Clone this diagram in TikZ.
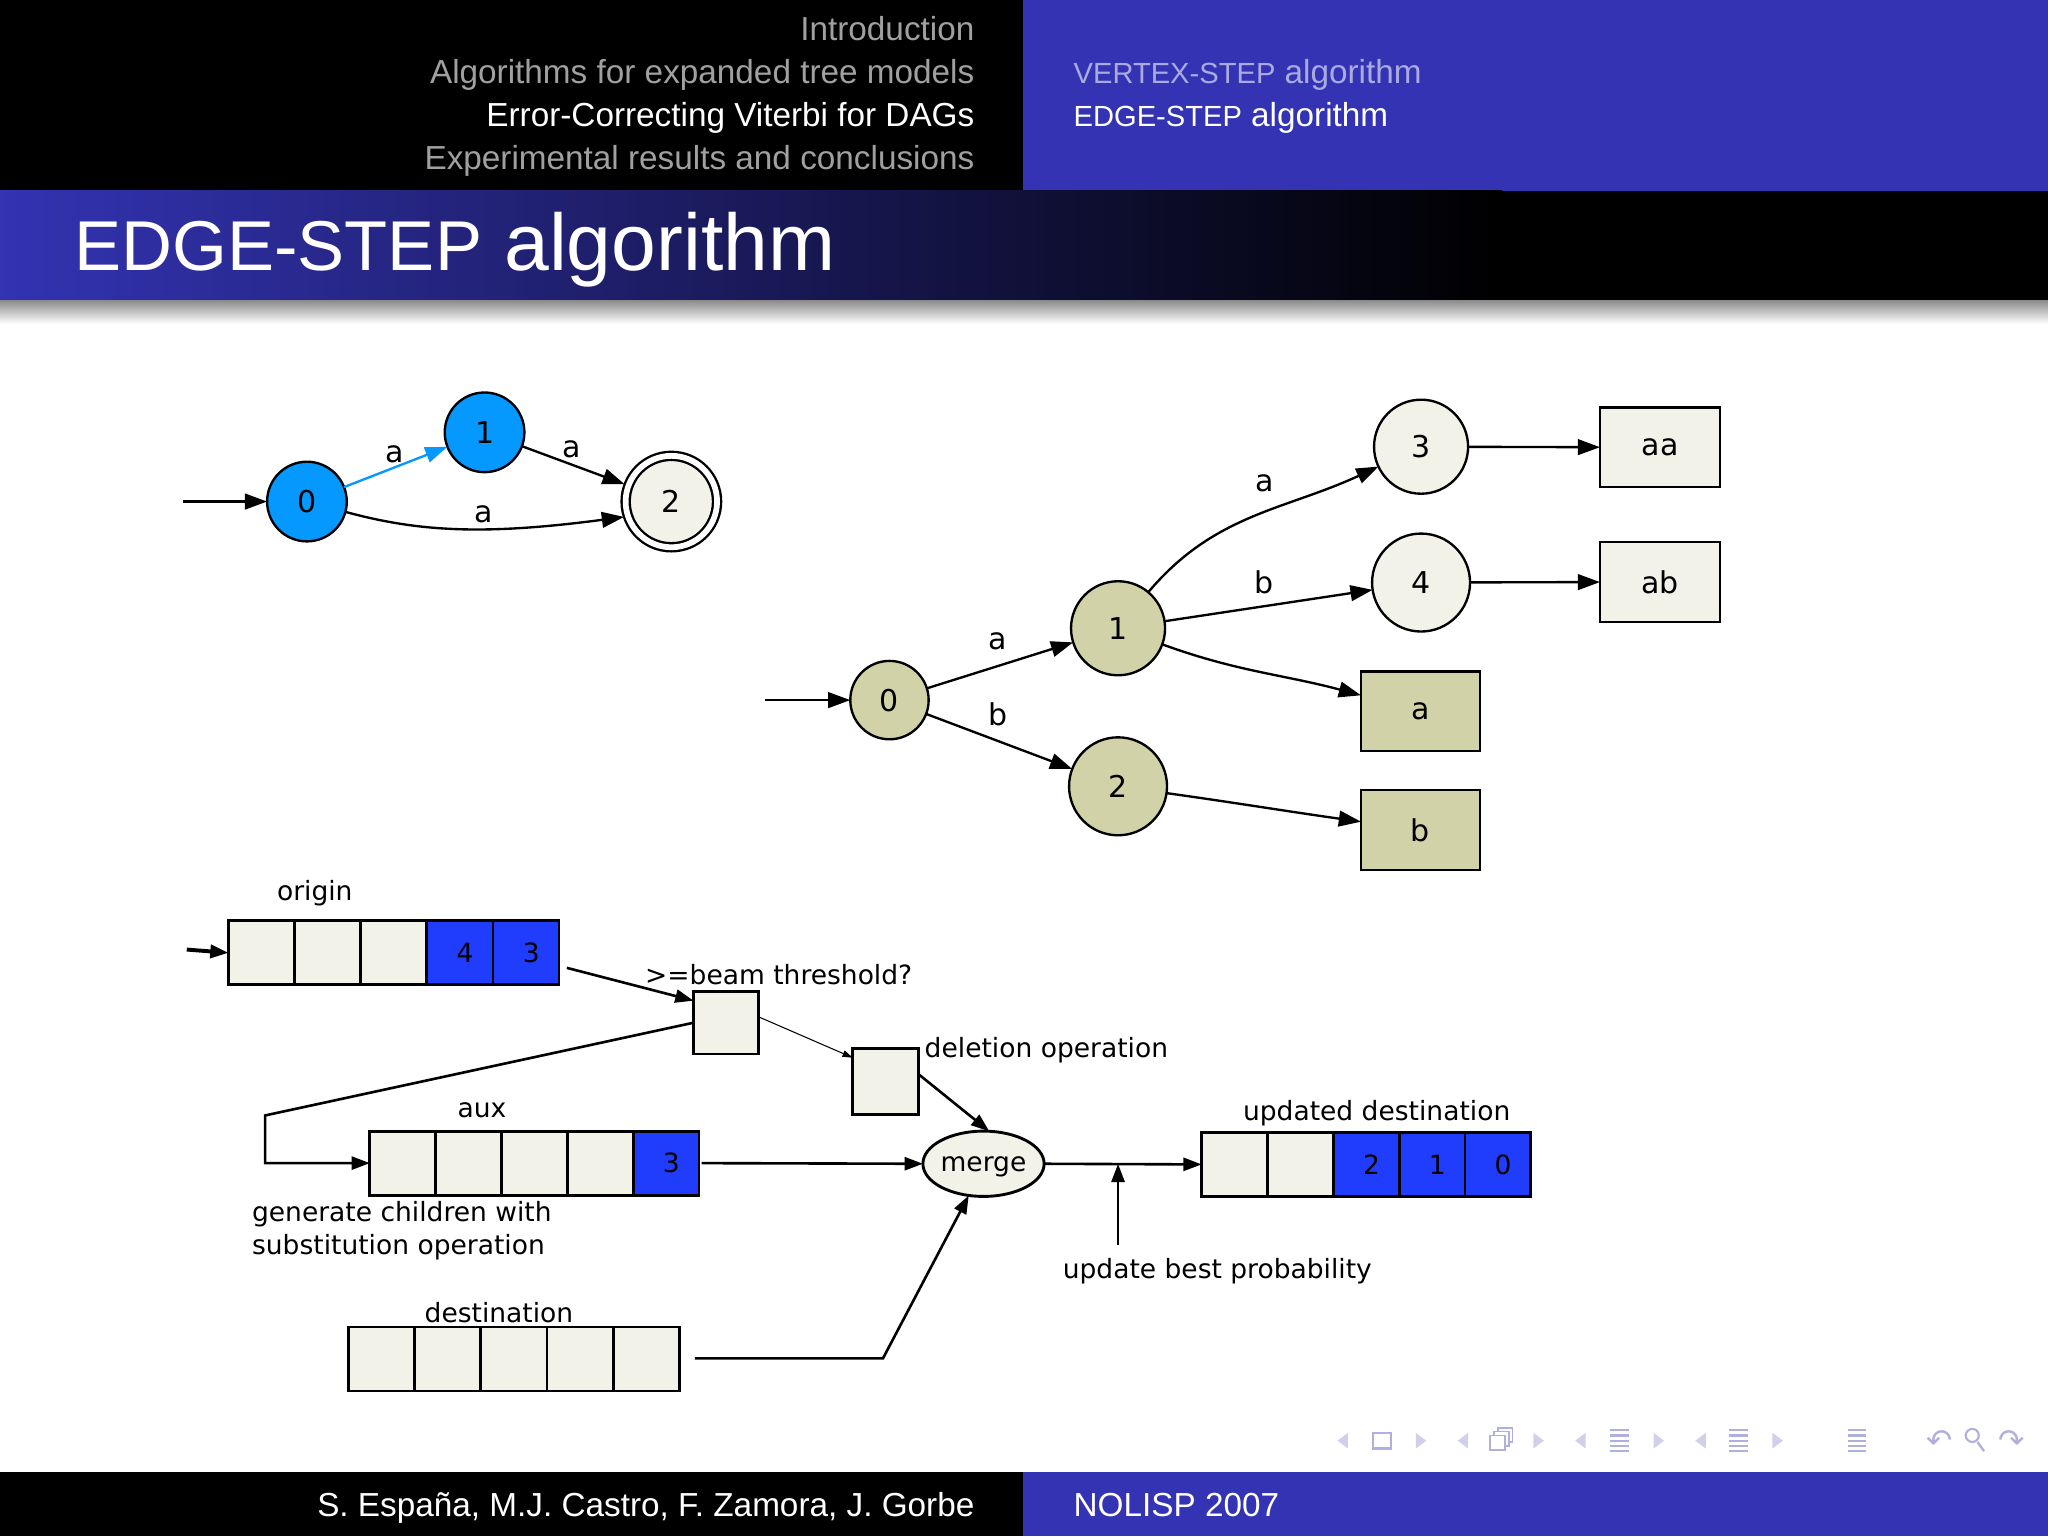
\documentclass[tikz,border=0pt]{standalone}
\usepackage{fontspec}
\setmainfont{Liberation Sans}
\newfontfamily\gvfont{DejaVu Sans}
\usetikzlibrary{arrows.meta,shapes.geometric}

\definecolor{structblue}{RGB}{51,51,179}
\definecolor{stateblue}{RGB}{5,152,255}
\definecolor{gvbeige}{RGB}{242,242,233}
\definecolor{gvkhaki}{RGB}{210,210,168}
\definecolor{cellblue}{RGB}{32,60,252}
\definecolor{navcol}{RGB}{176,176,222}
\definecolor{hdrgray}{RGB}{160,160,160}
\definecolor{subgray}{RGB}{170,170,225}

\begin{document}
\begin{tikzpicture}[x=1pt, y=-1pt,
  every node/.style={inner sep=0pt, outer sep=0pt},
  hdr/.style={font=\fontsize{25.5}{30}\selectfont, anchor=base east},
  hdrr/.style={font=\fontsize{25.5}{30}\selectfont, anchor=base west},
  gv/.style={font=\gvfont\fontsize{23}{27}\selectfont},
  elbl/.style={gv, yshift=-2pt},
  lbl/.style={font=\gvfont\fontsize{20.3}{25}\selectfont, align=left, yshift=-2pt},
  state/.style={gv, circle, draw, line width=1.8pt, minimum size=61pt},
  leaf/.style={gv, rectangle, draw, line width=1.8pt, minimum width=91pt, minimum height=61pt},
  trans/.style={line width=1.8pt, -{Triangle[length=17pt,width=12pt]}},
  cell/.style={draw, line width=2.2pt, fill=gvbeige, minimum width=50.6pt, minimum height=49pt, font=\gvfont\fontsize{20.3}{24}\selectfont},
  bcell/.style={cell, fill=cellblue},
  flow/.style={line width=2pt, -{Triangle[length=14pt,width=10pt]}}]

  \useasboundingbox (0,0) rectangle (1568,1176);
  \fill[white] (0,0) rectangle (1568,1176);

  % headline, title bar, footline
  \fill[black] (0,0) rectangle (783,146);
  \fill[structblue] (783,0) rectangle (1568,146);
  \fill[black] (1100,146) rectangle (1568,230);
  \shade[left color=structblue, right color=black] (0,146) rectangle (1150,230);
  \shade[top color=black!45, bottom color=white] (0,230) rectangle (1568,248);
  \fill[black] (0,1127) rectangle (783,1176);
  \fill[structblue] (783,1127) rectangle (1568,1176);

  \node[hdr, text=hdrgray] (hintro) at (746,31) {Introduction};
  \node[hdr, text=hdrgray] (halgo) at (746,64) {Algorithms for expanded tree models};
  \node[hdr, text=white] (hviterbi) at (746,97) {Error-Correcting Viterbi for DAGs};
  \node[hdr, text=hdrgray] (hexp) at (746,130) {Experimental results and conclusions};
  \node[hdrr, text=subgray] (hvertex) at (822,64) {{\fontsize{22.3}{26}\selectfont VERTEX-STEP} algorithm};
  \node[hdrr, text=white] (hedge) at (822,97) {{\fontsize{22.3}{26}\selectfont EDGE-STEP} algorithm};
  \node[anchor=base west, text=white, font=\fontsize{61.6}{70}\selectfont] (title) at (57,207)
    {{\fontsize{54}{60}\selectfont EDGE-STEP} algorithm};
  \node[hdr, text=white] (fauthors) at (746,1161) {S. España, M.J. Castro, F. Zamora, J. Gorbe};
  \node[hdrr, text=white] (fconf) at (822,1161) {NOLISP 2007};

  % automaton
  \node[state, fill=stateblue] (a0) at (235,384) {0};
  \node[state, fill=stateblue] (a1) at (371,331) {1};
  \node[state, fill=gvbeige, minimum size=70pt, double, double distance=4.4pt, outer sep=3.1pt] (a2) at (514,384) {2};
  \coordinate (ain) at (140,384);
  \draw[trans] (ain) -- (a0);
  \draw[trans, draw=stateblue] (a0) -- (a1);
  \draw[trans] (a1) -- (a2);
  \draw[trans] (a0.-15) .. controls (320,407) and (370,410) .. (a2.198);
  \node[elbl] (la01) at (302,346) {a};
  \node[elbl] (la12) at (438,342) {a};
  \node[elbl] (la02) at (370,392) {a};

  % expanded tree
  \node[state, fill=gvkhaki, minimum size=60pt] (t0) at (681,536) {0};
  \node[state, fill=gvkhaki, minimum size=72pt] (t1) at (856,481) {1};
  \node[state, fill=gvkhaki, minimum size=75pt] (t2) at (856,602) {2};
  \node[state, fill=gvbeige, minimum size=72pt] (t3) at (1088,342) {3};
  \node[state, fill=gvbeige, minimum size=75pt] (t4) at (1088,446) {4};
  \node[leaf, fill=gvbeige, minimum width=92pt] (taa) at (1271,342.5) {aa};
  \node[leaf, fill=gvbeige, minimum width=92pt] (tab) at (1271,445.5) {ab};
  \node[leaf, fill=gvkhaki] (ta) at (1087.5,544.5) {a};
  \node[leaf, fill=gvkhaki] (tb) at (1087.5,635.5) {b};
  \coordinate (tin) at (586,536);
  \draw[trans] (tin) -- (t0);
  \draw[trans] (t0) -- (t1);
  \draw[trans] (t0) -- (t2);
  \draw[trans] (t1) to[out=50,in=205] (t3);
  \draw[trans] (t1) -- (t4);
  \draw[trans] (t1) to[out=-20,in=165] (ta);
  \draw[trans] (t2) to[out=-8,in=172] (tb);
  \draw[trans] (t3) -- (taa);
  \draw[trans] (t4) -- (tab);
  \node[elbl] (lt01) at (764,489) {a};
  \node[elbl] (lt02) at (764,545) {b};
  \node[elbl] (lt13) at (968,368) {a};
  \node[elbl] (lt14) at (968,444) {b};

  % edge-step data flow
  \node[lbl] (origlbl) at (241,682) {origin};
  \foreach \i/\t/\s in {1//cell,2//cell,3//cell,4/4/bcell,5/3/bcell}
    \node[\s] (o\i) at ({149.7+50.6*\i},729.5) {\hspace*{8pt}\t};
  \node[cell, minimum width=50pt, minimum height=48pt] (beam) at (556,783) {};
  \node[lbl, anchor=west] (beamlbl) at (494,744) {>=beam threshold?};
  \node[cell, minimum width=50pt, minimum height=50pt] (del) at (678,828) {};
  \node[lbl, anchor=west] (dellbl) at (708,802) {deletion operation};
  \node[lbl] (auxlbl) at (369,848) {aux};
  \foreach \i/\t/\s in {1//cell,2//cell,3//cell,4//cell,5/3/bcell}
    \node[\s, minimum width=50.4pt] (aux\i) at ({258+50.4*\i},890.5) {\hspace*{8pt}\t};
  \node[lbl, anchor=west] (genlbl) at (193,940) {generate children with\\substitution operation};
  \node[ellipse, draw, fill=gvbeige, line width=2.2pt, minimum width=90pt, minimum height=50pt,
    font=\gvfont\fontsize{20.3}{25}\selectfont, text depth=0pt] (merge) at (753,891) {merge};
  \node[lbl] (updlbl) at (1054,850) {updated destination};
  \foreach \i/\t/\s in {1//cell,2//cell,3/2/bcell,4/1/bcell,5/0/bcell}
    \node[\s, minimum width=50.4pt] (upd\i) at ({894.8+50.4*\i},891.5) {\hspace*{8pt}\t};
  \node[lbl] (problbl) at (932,971) {update best probability};
  \node[lbl] (dstlbl) at (382,1003) {destination};
  \foreach \i in {1,...,5}
    \node[cell] (dst\i) at ({241.7+50.6*\i},1040.5) {};

  \coordinate (oin) at (143,727);
  \coordinate (oout) at (434,741);
  \coordinate (probfoot) at (856,953);
  \coordinate (probtip) at (856,891);
  \coordinate (dout) at (532,1040);
  \draw[flow, line width=3pt] (oin) -- (o1.west);
  \draw[flow] (oout) -- (beam.146);
  \draw[line width=0.8pt, -{Triangle[length=8pt,width=5pt]}] (beam.10) -- (del.144);
  \draw[flow] (del.13) -- (merge.80);
  \draw[flow] (beam.west) -- (203,854) |- (aux1.west);
  \draw[flow, shorten <=2pt] (aux5.east) -- (merge.west);
  \draw[flow] (merge.east) -- (upd1.west);
  \draw[flow] (probfoot) -- (probtip);
  \draw[flow] (dout) -- (676,1040) -- (merge.245);

  % navigation symbols
  \foreach \x in {1028,1120,1210,1302}
    \fill[navcol!60] (\x+4,1097) -- (\x-4,1103) -- (\x+4,1109) -- cycle;
  \foreach \x in {1088,1178,1270,1361}
    \fill[navcol!60] (\x-4,1097) -- (\x+4,1103) -- (\x-4,1109) -- cycle;
  \draw[navcol, line width=1.6pt] (1051,1097) rectangle (1065,1109);
  \foreach \d in {6,3,0}
    \draw[navcol, line width=1.4pt, fill=white] (1141+\d,1099-\d) rectangle (1152+\d,1110-\d);
  \foreach \x in {1240,1331,1422}
    \foreach \yy in {1095,1099,1103,1107,1111}
      \draw[navcol, line width=1.8pt] (\x-7,\yy) -- (\x+7,\yy);
  \node[text=navcol, font=\gvfont\fontsize{24}{24}\selectfont] (navundo) at (1485,1103) {↶};
  \node[text=navcol, font=\gvfont\fontsize{24}{24}\selectfont] (navredo) at (1540,1103) {↷};
  \draw[navcol, line width=1.6pt] (1510,1099) circle (5pt);
  \draw[navcol, line width=1.8pt] (1514,1104) -- (1519,1111);
\end{tikzpicture}
\end{document}
